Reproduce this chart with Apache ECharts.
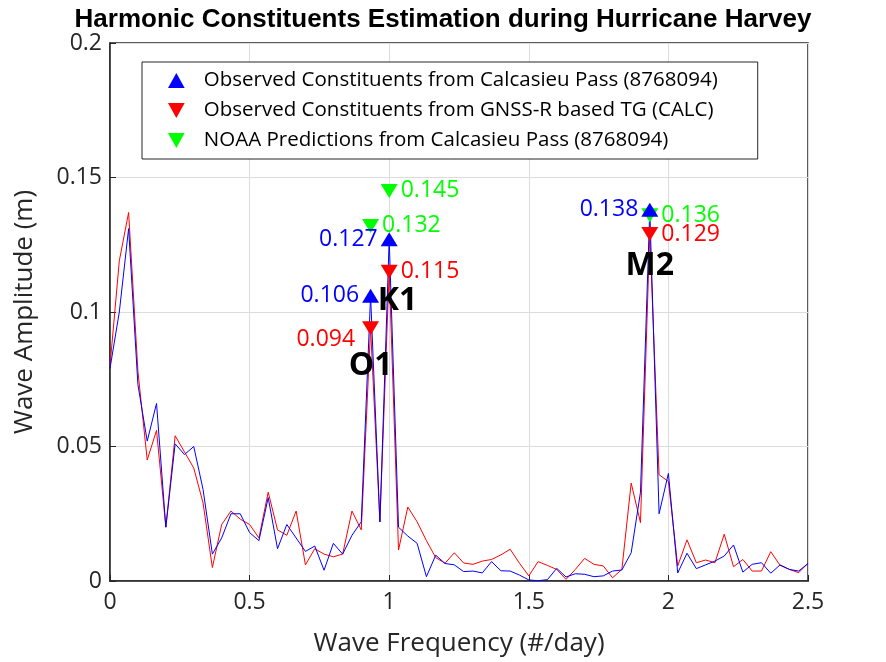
<!DOCTYPE html>
<html>
<head>
<meta charset="utf-8">
<script src="https://cdn.jsdelivr.net/npm/echarts@6/dist/echarts.min.js"></script>
<style>body{margin:0;background:#fff}#c{width:886px;height:662px}</style>
</head>
<body>
<div id="c"></div>
<script>
// frequency step is 1/30 cycle per day
var step = 1 / 30;
var obsAmp = [0.079,0.100,0.131,0.073,0.052,0.066,0.020,0.051,0.047,0.050,
  0.034,0.010,0.016,0.025,0.025,0.018,0.015,0.031,0.012,0.021,
  0.016,0.011,0.013,0.004,0.014,0.010,0.017,0.022,0.106,0.022,
  0.127,0.020,0.0167,0.014,0.0016,0.0096,0.0065,0.006,0.0035,0.0037,
  0.003,0.0072,0.0038,0.0037,0.0022,0.0004,0.0001,0.0005,0.0047,0.0015,
  0.0027,0.0025,0.0016,0.0019,0.0037,0.0041,0.0105,0.033,0.138,0.025,
  0.040,0.003,0.0103,0.0046,0.006,0.0074,0.0093,0.0134,0.0033,0.0062,
  0.0068,0.0029,0.006,0.0043,0.0037,0.0065];
var gnssAmp = [0.080,0.119,0.137,0.078,0.045,0.056,0.020,0.054,0.048,0.042,
  0.029,0.005,0.021,0.026,0.023,0.021,0.016,0.033,0.019,0.017,
  0.026,0.006,0.012,0.010,0.009,0.010,0.026,0.019,0.094,0.022,
  0.115,0.0115,0.0275,0.022,0.015,0.0087,0.0066,0.0105,0.0067,0.0062,
  0.0074,0.008,0.0097,0.0118,0.0066,0.0019,0.0072,0.0058,0.0043,0.0006,
  0.0043,0.0084,0.0062,0.0056,0.0012,0.0043,0.0364,0.0217,0.129,0.0395,
  0.037,0.0056,0.0153,0.0068,0.0078,0.0068,0.0174,0.0053,0.008,0.0037,
  0.0037,0.0109,0.0058,0.0043,0.0031,0.0066];

var constNames = ['O1', 'K1', 'M2'];
var constFreq = [28 / 30, 1, 58 / 30];
var obsConst = [0.106, 0.127, 0.138];
var gnssConst = [0.094, 0.115, 0.129];
var noaaConst = [0.132, 0.145, 0.136];
var nameLabelY = [0.080, 0.104, 0.117];
var nameLabelDx = [0, 0.03, 0];

var xTicks = [0, 0.5, 1, 1.5, 2, 2.5];
var yTicks = [0, 0.05, 0.1, 0.15, 0.2];

function pairs(xs, ys) { return ys.map(function (v, i) { return [xs[i], v]; }); }
var freqs = obsAmp.map(function (v, i) { return i * step; });
var font = '"Open Sans", Roboto, sans-serif';
var down = 'path://M0,0L10,0L5,9Z';
var up = 'path://M0,9L10,9L5,0Z';

var chart = echarts.init(document.getElementById('c'));
chart.setOption({
  animation: false,
  title: {
    text: 'Harmonic Constituents Estimation during Hurricane Harvey',
    left: 'center', top: 2,
    textStyle: { fontFamily: 'Liberation Sans, Arial, sans-serif', fontWeight: 'bold', fontSize: 26, color: '#000' }
  },
  grid: { left: 110, right: 78, top: 43, bottom: 81, show: true, borderColor: '#262626', borderWidth: 1.5 },
  legend: {
    orient: 'vertical', left: 142, top: 62, width: 636,
    padding: [8, 40, 8, 26], itemGap: 9,
    borderColor: '#262626', borderWidth: 1, backgroundColor: '#fff',
    itemWidth: 17, itemHeight: 15,
    textStyle: { fontFamily: font, fontSize: 20.5, color: '#000', padding: [0, 0, 0, 14] },
    data: [
      { name: 'Observed Constituents from Calcasieu Pass (8768094)', icon: up },
      { name: 'Observed Constituents from GNSS-R based TG (CALC)', icon: down },
      { name: 'NOAA Predictions from Calcasieu Pass (8768094)', icon: down }
    ]
  },
  xAxis: {
    type: 'value', min: 0, max: 2.5, interval: 0.5,
    name: 'Wave Frequency (#/day)', nameLocation: 'middle', nameGap: 50,
    nameTextStyle: { fontFamily: font, fontSize: 26, color: '#262626' },
    axisLine: { lineStyle: { color: '#262626', width: 1.5 } },
    axisTick: { inside: true, length: 6 },
    axisLabel: { fontFamily: font, fontSize: 23, color: '#262626', margin: 10,
      formatter: function (v) { return xTicks.indexOf(v) >= 0 ? String(v) : ''; } },
    splitLine: { show: true, lineStyle: { color: '#dcdcdc' } }
  },
  yAxis: {
    type: 'value', min: 0, max: 0.2, interval: 0.05,
    name: 'Wave Amplitude (m)', nameLocation: 'middle', nameGap: 72,
    nameTextStyle: { fontFamily: font, fontSize: 26, color: '#262626' },
    axisLine: { lineStyle: { color: '#262626', width: 1.5 } },
    axisTick: { inside: true, length: 6 },
    axisLabel: { fontFamily: font, fontSize: 23, color: '#262626', margin: 8,
      formatter: function (v) { return yTicks.indexOf(v) >= 0 ? String(v) : ''; } },
    splitLine: { show: true, lineStyle: { color: '#dcdcdc' } }
  },
  series: [
    { type: 'line', data: pairs(freqs, gnssAmp), showSymbol: false, lineStyle: { color: '#ff0000', width: 1 }, z: 2 },
    { type: 'line', data: pairs(freqs, obsAmp), showSymbol: false, lineStyle: { color: '#0000ff', width: 1 }, z: 3 },
    { name: 'NOAA Predictions from Calcasieu Pass (8768094)', type: 'scatter', data: pairs(constFreq, noaaConst),
      symbol: down, symbolSize: [17, 14], itemStyle: { color: '#00ff00', opacity: 1 }, z: 5,
      label: { show: true, position: 'right', distance: 3, color: '#00ff00', fontFamily: font, fontSize: 23,
        formatter: function (p) { return p.value[1].toFixed(3); } } },
    { name: 'Observed Constituents from GNSS-R based TG (CALC)', type: 'scatter', data: pairs(constFreq, gnssConst),
      symbol: down, symbolSize: [17, 14], itemStyle: { color: '#ff0000', opacity: 1 }, z: 5,
      label: { show: true, position: 'right', distance: 3, color: '#ff0000', fontFamily: font, fontSize: 23,
        formatter: function (p) { return p.value[1].toFixed(3); } },
      labelLayout: function (p) { return p.dataIndex === 0 ? { x: p.rect.x - 7, align: 'right' } : {}; } },
    { name: 'Observed Constituents from Calcasieu Pass (8768094)', type: 'scatter', data: pairs(constFreq, obsConst),
      symbol: up, symbolSize: [17, 14], itemStyle: { color: '#0000ff', opacity: 1 }, z: 6,
      label: { show: true, position: 'left', distance: 3, color: '#0000ff', fontFamily: font, fontSize: 23,
        formatter: function (p) { return p.value[1].toFixed(3); } } },
    { type: 'scatter', symbolSize: 0, z: 7, itemStyle: { opacity: 1 },
      data: constNames.map(function (n, i) { return { name: n, value: [constFreq[i] + nameLabelDx[i], nameLabelY[i]] }; }),
      label: { show: true, position: 'inside', formatter: '{b}', color: '#000', fontWeight: 'bold',
        fontFamily: font, fontSize: 32 } }
  ]
});
</script>
</body>
</html>
